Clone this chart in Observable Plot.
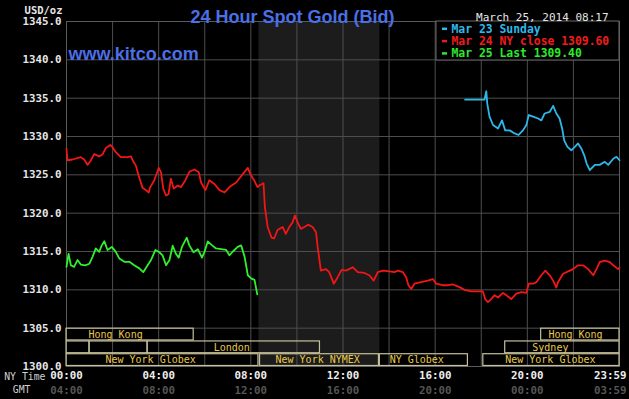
<!DOCTYPE html>
<html>
<head>
<meta charset="utf-8">
<script src="https://cdn.jsdelivr.net/npm/d3@7"></script>
<script src="https://cdn.jsdelivr.net/npm/@observablehq/plot@0.6"></script>
<style>
  html, body { margin: 0; padding: 0; background: #000; }
  #chart svg { display: block; }
</style>
</head>
<body>
<div id="chart"></div>
<script>
// ---- data (hours since 00:00 NY time, USD/oz) ----
const redSeries = [
  [0.00,1328.4],[0.04,1326.9],[0.26,1327.0],[0.62,1327.3],[0.77,1327.0],[0.91,1326.3],[1.06,1326.9],
  [1.20,1327.7],[1.42,1327.4],[1.57,1327.7],[1.71,1328.5],[1.90,1328.9],[2.00,1328.6],[2.14,1327.95],
  [2.36,1327.3],[2.65,1327.3],[2.80,1327.4],[2.87,1326.9],[3.01,1326.2],[3.13,1324.9],[3.30,1323.3],
  [3.45,1323.0],[3.57,1322.7],[3.62,1323.3],[3.81,1324.3],[4.00,1325.9],[4.10,1325.35],[4.20,1323.2],
  [4.32,1322.3],[4.43,1322.5],[4.53,1324.5],[4.65,1323.2],[4.83,1323.6],[4.97,1323.4],[5.16,1324.3],
  [5.33,1325.4],[5.55,1325.7],[5.74,1325.35],[5.84,1324.0],[6.03,1323.0],[6.20,1324.3],[6.42,1323.8],
  [6.64,1323.0],[6.86,1322.7],[7.07,1323.4],[7.36,1324.0],[7.65,1325.1],[7.87,1325.9],[8.01,1324.9],
  [8.14,1324.3],[8.29,1323.4],[8.36,1323.6],[8.55,1323.9],[8.61,1320.8],[8.73,1318.2],[8.90,1316.8],
  [9.01,1316.7],[9.16,1317.8],[9.38,1318.2],[9.52,1317.3],[9.67,1318.2],[9.81,1318.8],[9.91,1319.7],
  [10.03,1318.8],[10.17,1317.95],[10.32,1318.2],[10.49,1318.5],[10.68,1318.2],[10.83,1317.5],[10.90,1315.6],
  [11.04,1312.5],[11.26,1312.7],[11.40,1312.3],[11.60,1310.8],[11.77,1311.65],[11.94,1312.6],[12.13,1312.5],
  [12.42,1312.95],[12.64,1312.3],[12.93,1312.2],[13.14,1311.9],[13.33,1311.2],[13.51,1312.3],[13.73,1312.5],
  [14.01,1312.4],[14.23,1312.3],[14.38,1312.5],[14.60,1312.3],[14.74,1311.65],[14.84,1310.6],[14.96,1310.1],
  [15.10,1310.8],[15.39,1311.0],[15.68,1311.2],[15.90,1311.4],[16.04,1310.8],[16.33,1310.6],[16.55,1310.6],
  [16.77,1310.7],[17.06,1310.35],[17.27,1310.0],[17.57,1309.8],[17.86,1309.8],[18.07,1309.8],[18.17,1308.8],
  [18.29,1308.4],[18.43,1308.8],[18.58,1309.3],[18.73,1309.0],[18.94,1309.6],[19.09,1309.3],[19.30,1308.8],
  [19.52,1309.5],[19.74,1309.7],[19.96,1309.6],[20.06,1310.8],[20.25,1310.8],[20.39,1311.0],[20.61,1311.9],
  [20.78,1312.5],[20.97,1311.9],[21.12,1311.2],[21.26,1310.3],[21.33,1311.0],[21.55,1312.1],[21.77,1312.4],
  [21.99,1312.7],[22.20,1313.2],[22.42,1313.2],[22.64,1312.7],[22.86,1311.9],[23.00,1312.7],[23.14,1313.6],
  [23.36,1313.8],[23.58,1313.6],[23.73,1313.2],[23.94,1312.7],[24.00,1312.9]
];
const greenSeries = [
  [0.00,1313.0],[0.09,1314.7],[0.19,1313.2],[0.33,1313.0],[0.48,1313.9],[0.62,1313.3],[0.81,1313.2],
  [0.99,1313.4],[1.13,1314.3],[1.27,1315.4],[1.42,1314.95],[1.53,1315.8],[1.64,1316.35],[1.78,1315.2],
  [1.97,1315.6],[2.14,1314.95],[2.29,1314.1],[2.51,1313.65],[2.73,1313.65],[2.94,1313.2],[3.16,1312.8],
  [3.33,1312.3],[3.52,1313.2],[3.67,1313.9],[3.86,1315.2],[4.03,1314.9],[4.17,1314.5],[4.32,1313.2],
  [4.47,1313.9],[4.61,1315.75],[4.75,1314.7],[4.87,1314.2],[5.01,1315.6],[5.22,1316.8],[5.33,1315.8],
  [5.51,1314.9],[5.70,1315.3],[5.88,1314.2],[5.99,1314.95],[6.13,1316.3],[6.32,1315.8],[6.49,1315.4],
  [6.71,1315.3],[6.93,1315.2],[7.07,1314.5],[7.22,1315.0],[7.43,1315.6],[7.58,1315.8],[7.73,1314.3],
  [7.87,1311.9],[8.01,1311.5],[8.16,1311.3],[8.28,1309.4]
];
const cyanSeries = [
  [17.30,1334.8],[18.14,1334.8],[18.22,1335.9],[18.26,1334.3],[18.36,1332.6],[18.51,1331.5],[18.73,1331.05],
  [18.90,1332.1],[19.04,1330.8],[19.23,1330.8],[19.45,1330.4],[19.62,1330.2],[19.81,1330.8],[19.96,1331.5],
  [20.06,1332.8],[20.25,1332.6],[20.47,1332.35],[20.61,1332.1],[20.75,1333.0],[20.97,1333.2],[21.12,1334.0],
  [21.26,1333.0],[21.40,1332.35],[21.51,1331.05],[21.60,1329.5],[21.74,1328.65],[21.91,1328.2],[22.06,1328.65],
  [22.20,1329.1],[22.35,1328.4],[22.47,1327.55],[22.57,1326.5],[22.71,1325.6],[22.93,1326.3],[23.14,1326.3],
  [23.36,1326.7],[23.51,1326.3],[23.73,1327.1],[23.87,1327.35],[24.00,1326.9]
];
const yTicks = [1300,1305,1310,1315,1320,1325,1330,1335,1340,1345];
const gridHours = [0,2,4,6,8,10,12,14,16,18,20,22,24];
const labelHours = [0,4,8,12,16,20,24];
const nyTimeLabels = ["00:00","04:00","08:00","12:00","16:00","20:00","23:59"];
const gmtLabels = ["04:00","08:00","12:00","16:00","20:00","00:00","03:59"];
const pitSession = [8.35, 13.6];
const sessions = [
  {name:"Hong Kong",       row:0, start:0,     end:5.52,  labelAt:2.13},
  {name:"Hong Kong",       row:0, start:20.6,  end:24,    labelAt:22.09},
  {name:"",                row:1, start:0,     end:1.0,   labelAt:null},
  {name:"",                row:1, start:1.0,   end:3.52,  labelAt:null},
  {name:"London",          row:1, start:3.52,  end:11.0,  labelAt:7.17},
  {name:"Sydney",          row:1, start:19.04, end:24,    labelAt:21.0},
  {name:"New York Globex", row:2, start:0,     end:8.33,  labelAt:3.65},
  {name:"New York NYMEX",  row:2, start:8.4,   end:13.56, labelAt:10.9},
  {name:"NY Globex",       row:2, start:13.6,  end:17.42, labelAt:15.2},
  {name:"New York Globex", row:2, start:18.09, end:24,    labelAt:21.0}
];
const legendItems = [
  {text:"Mar 23 Sunday",           color:"#2fb8ea"},
  {text:"Mar 24 NY close 1309.60", color:"#f01c1c"},
  {text:"Mar 25 Last 1309.40",     color:"#2ee82e"}
];
const titleText = "24 Hour Spot Gold (Bid)";
const siteText = "www.kitco.com";
const dateText = "March 25, 2014 08:17";
const unitText = "USD/oz";

// ---- styling ----
const MONO = "DejaVu Sans Mono, monospace";
const SANS = "Liberation Sans, Arial, sans-serif";
const BLUE = "#4b6fe6";
const rowH = 5/3;
const labels = labelHours.map((h, i) => ({h, ny: nyTimeLabels[i], gmt: gmtLabels[i]}));

const legendMark = (index, scales, values, dimensions) => {
  const right = dimensions.width - dimensions.marginRight;
  const top = dimensions.marginTop;
  const g = d3.create("svg:g");
  g.append("rect").attr("x", right - 183).attr("y", top).attr("width", 183).attr("height", 39)
    .attr("fill", "#000").attr("stroke", "#6a6a6a").attr("stroke-width", 1);
  legendItems.forEach((d, i) => {
    const y = top + 7.8 + i * 12.3;
    g.append("line").attr("x1", right - 177).attr("x2", right - 172).attr("y1", y).attr("y2", y)
      .attr("stroke", d.color).attr("stroke-width", 2.5);
    g.append("text").attr("x", right - 167.5).attr("y", y).attr("dy", "0.35em")
      .attr("text-anchor", "start")
      .attr("fill", d.color).attr("font-family", MONO).attr("font-weight", "bold")
      .attr("font-size", 11.4).text(d.text);
  });
  return g.node();
};

const chart = Plot.plot({
  width: 629,
  height: 399,
  marginLeft: 66,
  marginRight: 10,
  marginTop: 21,
  marginBottom: 33,
  style: {background: "#000", color: "#ddd", fontFamily: MONO, overflow: "visible"},
  x: {domain: [0, 24], axis: null},
  y: {domain: [1300, 1345], axis: null},
  marks: [
    Plot.rect([pitSession], {x1: d => d[0], x2: d => d[1], fill: "#1b1c1b"}),
    Plot.ruleX(gridHours, {stroke: "#4e4e4e", strokeWidth: 1}),
    Plot.ruleY(yTicks, {stroke: "#4e4e4e", strokeWidth: 1}),
    Plot.frame({stroke: "#5a5a5a"}),
    // session boxes
    Plot.rect(sessions, {
      x1: "start", x2: "end",
      y1: d => 1305 - d.row * rowH, y2: d => 1305 - (d.row + 1) * rowH,
      insetTop: 0.5, insetBottom: 0.5,
      fill: "none", stroke: "#c6c09a", strokeWidth: 1.2
    }),
    Plot.text(sessions.filter(d => d.name), {
      x: "labelAt", y: d => 1305 - (d.row + 0.5) * rowH, text: "name",
      fill: "#e9c84c", fontSize: 10, fontFamily: MONO
    }),
    // series
    Plot.line(redSeries, {x: d => d[0], y: d => d[1], stroke: "#f21616", strokeWidth: 1.8}),
    Plot.line(greenSeries, {x: d => d[0], y: d => d[1], stroke: "#2ef02e", strokeWidth: 1.8}),
    Plot.line(cyanSeries, {x: d => d[0], y: d => d[1], stroke: "#2cb8ea", strokeWidth: 1.8}),
    // legend
    legendMark,
    // y labels
    Plot.text(yTicks, {x: 0, y: d => d, text: d => d.toFixed(1), textAnchor: "end", dx: -5,
      fill: "#e6e6e6", fontSize: 10.8, fontWeight: "bold", fontFamily: MONO}),
    Plot.text([unitText], {frameAnchor: "top-left", textAnchor: "end", dx: -4, dy: -15,
      fill: "#e6e6e6", fontSize: 10.5, fontWeight: "bold", fontFamily: MONO}),
    // x labels
    Plot.text(labels.slice(0, 6), {x: "h", frameAnchor: "bottom", dy: 12, text: "ny",
      fill: "#eeeeee", fontSize: 10.8, fontWeight: "bold", fontFamily: MONO}),
    Plot.text(labels.slice(6), {x: "h", frameAnchor: "bottom", dy: 12, text: "ny", textAnchor: "end", dx: 7,
      fill: "#eeeeee", fontSize: 10.8, fontWeight: "bold", fontFamily: MONO}),
    Plot.text(labels.slice(0, 6), {x: "h", frameAnchor: "bottom", dy: 27, text: "gmt",
      fill: "#555555", fontSize: 10.8, fontWeight: "bold", fontFamily: MONO}),
    Plot.text(labels.slice(6), {x: "h", frameAnchor: "bottom", dy: 27, text: "gmt", textAnchor: "end", dx: 7,
      fill: "#555555", fontSize: 10.8, fontWeight: "bold", fontFamily: MONO}),
    Plot.text(["NY Time"], {frameAnchor: "bottom-left", textAnchor: "end", dx: -21, dy: 13.5,
      fill: "#d0d0d0", fontSize: 9.8, fontFamily: MONO}),
    Plot.text(["GMT"], {frameAnchor: "bottom-left", textAnchor: "end", dx: -36, dy: 26,
      fill: "#d0d0d0", fontSize: 9.8, fontFamily: MONO}),
    // titles
    Plot.text([titleText], {frameAnchor: "top-left", textAnchor: "start", dx: 124, dy: -11,
      fill: BLUE, fontSize: 18, fontWeight: "bold", fontFamily: SANS}),
    Plot.text([siteText], {frameAnchor: "top-left", textAnchor: "start", dx: 2, dy: 26,
      fill: BLUE, fontSize: 18, fontWeight: "bold", fontFamily: SANS}),
    Plot.text([dateText], {frameAnchor: "top-right", textAnchor: "end", dx: -11, dy: -8.5,
      fill: "#e6e6e6", fontSize: 11, fontFamily: MONO})
  ]
});
document.getElementById("chart").appendChild(chart);
</script>
</body>
</html>
